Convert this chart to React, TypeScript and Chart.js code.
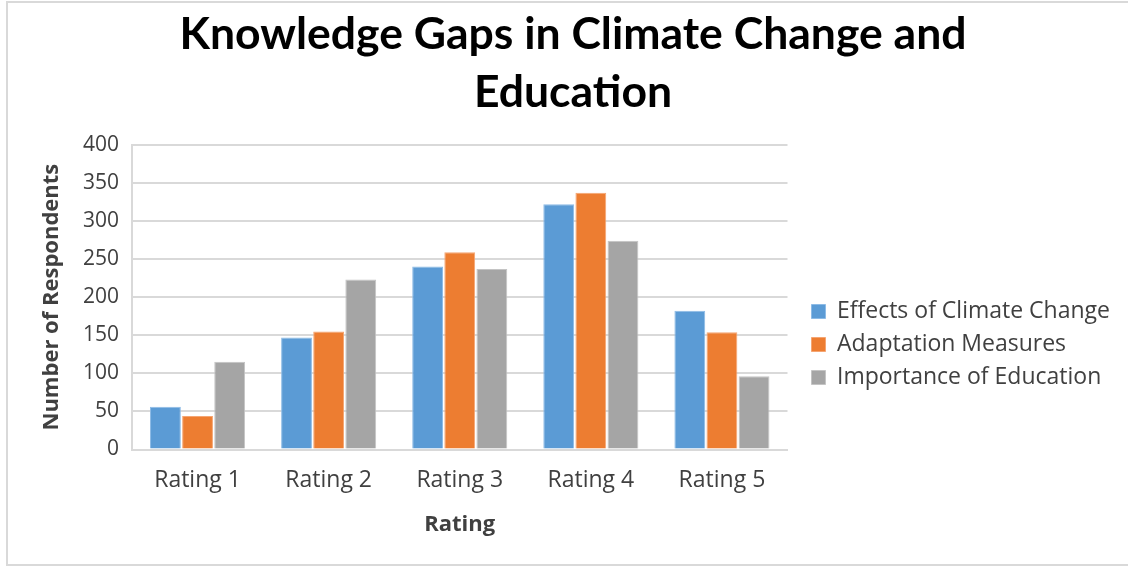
import React, { useEffect, useRef } from "react";
import { Chart, registerables } from "chart.js";

Chart.register(...registerables);

const categories = ["Rating 1", "Rating 2", "Rating 3", "Rating 4", "Rating 5"];
const effectsOfClimateChange = [56, 147, 240, 322, 182];
const adaptationMeasures = [44, 155, 259, 337, 154];
const importanceOfEducation = [115, 223, 237, 274, 96];
const titleLines = ["Knowledge Gaps in Climate Change and", "Education"];

const TITLE_FONT = "Lato, 'Open Sans', sans-serif";
const FONT = "'Open Sans', Lato, sans-serif";

const layoutShift = {
  id: "layoutShift",
  afterLayout(chart: any) {
    const lg = chart.legend;
    if (lg) {
      lg.left += 14;
      lg.right += 14;
    }
    const tb = chart.titleBlock;
    if (tb) {
      tb.left += 10;
      tb.right += 10;
    }
  },
};

export default function App() {
  const ref = useRef<HTMLCanvasElement | null>(null);

  useEffect(() => {
    if (!ref.current) return;
    const chart = new Chart(ref.current, {
      type: "bar",
      data: {
        labels: categories,
        datasets: [
          {
            label: "Effects of Climate Change",
            data: effectsOfClimateChange,
            backgroundColor: "#5B9BD5",
            borderColor: "#8DBBE6",
            borderWidth: 1,
          },
          {
            label: "Adaptation Measures",
            data: adaptationMeasures,
            backgroundColor: "#ED7D31",
            borderColor: "#F5A572",
            borderWidth: 1,
          },
          {
            label: "Importance of Education",
            data: importanceOfEducation,
            backgroundColor: "#A5A5A5",
            borderColor: "#C4C4C4",
            borderWidth: 1,
          },
        ],
      },
      plugins: [layoutShift],
      options: {
        responsive: true,
        maintainAspectRatio: false,
        animation: false,
        datasets: {
          bar: { categoryPercentage: 0.735, barPercentage: 0.96 },
        },
        layout: { padding: { left: 20, right: 22, top: 0, bottom: 0 } },
        plugins: {
          title: {
            display: true,
            text: titleLines,
            color: "#000000",
            font: { family: TITLE_FONT, size: 44.5, weight: "bold", lineHeight: 1.3 },
            padding: { top: 6, bottom: 23 },
          },
          legend: {
            position: "right",
            maxWidth: 380,
            title: {
              display: true,
              text: " ",
              font: { size: 1, lineHeight: 1 },
              padding: { top: 0, bottom: 121 },
            },
            labels: {
              boxWidth: 14,
              boxHeight: 14,
              padding: 10,
              color: "#404040",
              font: { family: FONT, size: 23 },
            },
          },
          tooltip: { enabled: false },
        },
        scales: {
          x: {
            afterFit: (scale: any) => {
              scale.height = 117.5;
            },
            grid: { display: false, drawTicks: false },
            border: { display: true, color: "#D9D9D9", width: 2 },
            ticks: {
              color: "#404040",
              font: { family: FONT, size: 23 },
              padding: 17,
            },
            title: {
              display: true,
              text: "Rating",
              color: "#404040",
              font: { family: FONT, size: 22, weight: "bold" },
              padding: { top: 0, bottom: 29 },
            },
          },
          y: {
            min: 0,
            max: 400,
            afterFit: (scale: any) => {
              scale.width = 112;
            },
            ticks: {
              stepSize: 50,
              color: "#404040",
              font: { family: FONT, size: 21 },
              padding: 13,
            },
            grid: { color: "#D9D9D9", lineWidth: 2, drawTicks: false },
            border: { display: true, color: "#D9D9D9", width: 2 },
            title: {
              display: true,
              text: "Number of Respondents",
              color: "#404040",
              font: { family: FONT, size: 22, weight: "bold" },
              padding: { top: 19, bottom: 8 },
            },
          },
        },
      },
    });
    return () => chart.destroy();
  }, []);

  return (
    <div
      style={{
        position: "absolute",
        left: 0,
        top: 0,
        width: 1128,
        height: 567,
        background: "#ffffff",
      }}
    >
      <div
        style={{
          position: "absolute",
          left: 6,
          top: 1,
          width: 1130,
          height: 565,
          border: "2px solid #D9D9D9",
          boxSizing: "border-box",
        }}
      />
      <div style={{ position: "absolute", left: 0, top: 0, width: 1128, height: 567 }}>
        <canvas ref={ref} />
      </div>
    </div>
  );
}
